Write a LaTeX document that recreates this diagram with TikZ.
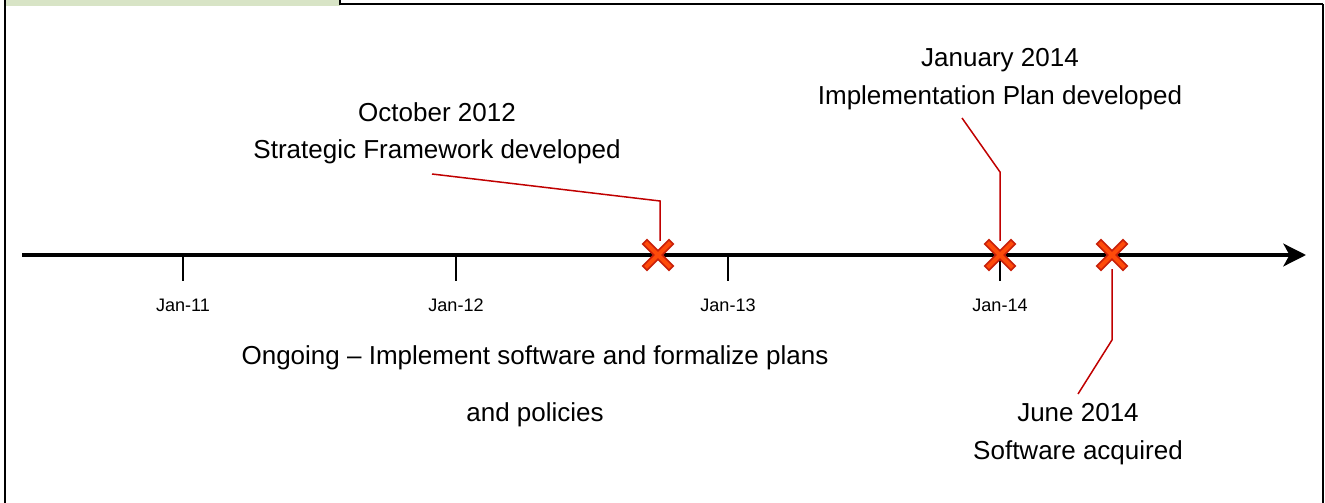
\documentclass[tikz,border=0pt]{standalone}
\usepackage{fontspec}
\setmainfont{Liberation Sans}
\usetikzlibrary{arrows.meta}
\definecolor{bandgreen}{HTML}{D8E4C6}
\definecolor{calloutred}{HTML}{C00000}
\definecolor{crossfill}{HTML}{FF4B0A}
\definecolor{crossedge}{HTML}{C8200A}
\tikzset{
  label/.style={anchor=center, align=center, font=\fontsize{14.8}{21.3}\selectfont},
  ticklabel/.style={anchor=center, font=\fontsize{10.3}{12}\selectfont},
  callout/.style={draw=calloutred, line width=0.03cm},
}
% cross mark at a named coordinate
\newcommand{\crossmark}[1]{%
  \draw[crossedge, line width=0.15cm, line cap=rect] ($(#1)+(-11,-11)$) -- ($(#1)+(11,11)$);
  \draw[crossedge, line width=0.15cm, line cap=rect] ($(#1)+(-11,11)$) -- ($(#1)+(11,-11)$);
  \draw[crossfill, line width=0.08cm, line cap=rect] ($(#1)+(-11,-11)$) -- ($(#1)+(11,11)$);
  \draw[crossfill, line width=0.08cm, line cap=rect] ($(#1)+(-11,11)$) -- ($(#1)+(11,-11)$);
}
\usetikzlibrary{calc}
\begin{document}
\begin{tikzpicture}[x=0.02cm, y=-0.02cm]
\useasboundingbox (0,0) rectangle (1325,503);

% Frame
\fill[bandgreen] (5,0) rectangle (340,6);
\draw[line width=0.05cm] (5,0) -- (5,503);
\draw[line width=0.05cm] (340,0) -- (340,4) -- (1323,4);
\draw[line width=0.025cm] (1323,4) -- (1323,503);

% Time axis
\coordinate (start) at (22,255);
\coordinate (end) at (1306,255);
\draw[line width=0.08cm, -{Stealth[length=0.45cm, width=0.45cm, inset=0.12cm]}] (start) -- (end);

% Ticks and labels
\draw[line width=0.025cm] (183,255) -- (183,281);
\node[ticklabel] (jan11) at (183,305) {Jan-11};
\draw[line width=0.025cm] (456,255) -- (456,281);
\node[ticklabel] (jan12) at (456,305) {Jan-12};
\draw[line width=0.025cm] (728,255) -- (728,281);
\node[ticklabel] (jan13) at (728,305) {Jan-13};
\draw[line width=0.025cm] (1000,255) -- (1000,281);
\node[ticklabel] (jan14) at (1000,305) {Jan-14};

% Milestones
\coordinate (oct) at (658,255);
\coordinate (jan) at (1000,255);
\coordinate (jun) at (1112,255);

% Callout texts
\node[label] (octtext) at (437,133) {October 2012\\Strategic Framework developed};
\node[label] (jantext) at (1000,79) {January 2014\\Implementation Plan developed};
\node[label] (juntext) at (1078,434) {June 2014\\Software acquired};
\node[label] (ongoing) at (535,386) {Ongoing -- Implement software and formalize plans\\[11pt]and policies};

% Callout lines
\coordinate (octbend) at (660,201);
\coordinate (janbend) at (1000,172);
\coordinate (junbend) at (1112,340);
\draw[callout] (432,174) -- (octbend) -- (660,241);
\draw[callout] (962,118) -- (janbend) -- (1000,241);
\draw[callout] (1112,269) -- (junbend) -- (1078,394);

% Crosses
\crossmark{oct}
\crossmark{jan}
\crossmark{jun}
\end{tikzpicture}
\end{document}
